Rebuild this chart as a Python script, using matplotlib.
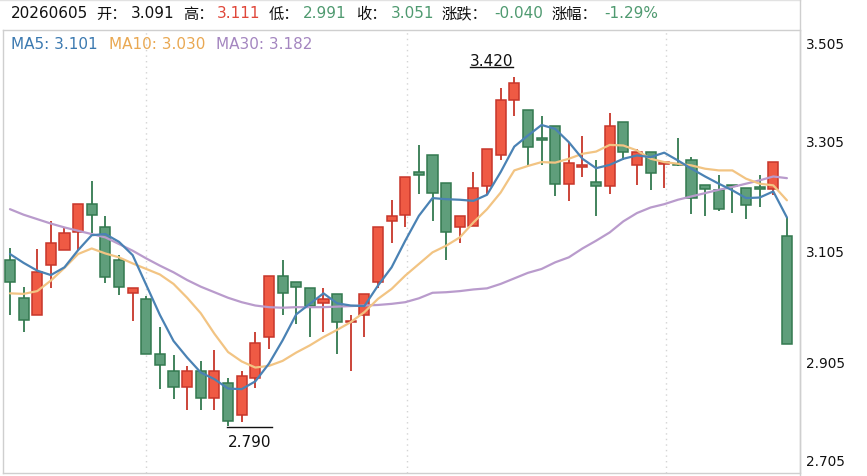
import matplotlib
matplotlib.use("Agg")
import matplotlib.pyplot as plt
from matplotlib.patches import Rectangle
from matplotlib.lines import Line2D
import numpy as np

# ---------------- data ----------------
opens = [3.091, 3.021, 2.990, 3.081, 3.109, 3.141, 3.191, 3.150, 3.091, 3.031,
         3.020, 2.921, 2.890, 2.860, 2.890, 2.841, 2.868, 2.810, 2.878, 2.952,
         3.061, 3.050, 3.039, 3.012, 3.028, 2.978, 2.990, 3.050, 3.160, 3.172,
         3.250, 3.280, 3.230, 3.150, 3.152, 3.223, 3.280, 3.380, 3.361, 3.310,
         3.332, 3.228, 3.258, 3.231, 3.223, 3.339, 3.261, 3.286, 3.264, 3.262,
         3.270, 3.225, 3.216, 3.226, 3.220, 3.220, 3.219, 3.134]
highs = [3.111, 3.042, 3.110, 3.161, 3.149, 3.191, 3.232, 3.169, 3.099, 3.040,
         3.026, 2.969, 2.919, 2.898, 2.908, 2.928, 2.878, 2.890, 2.961, 3.062,
         3.090, 3.050, 3.039, 3.039, 3.028, 2.990, 3.028, 3.150, 3.199, 3.240,
         3.298, 3.280, 3.230, 3.169, 3.250, 3.291, 3.400, 3.420, 3.361, 3.351,
         3.332, 3.303, 3.315, 3.270, 3.356, 3.339, 3.291, 3.286, 3.268, 3.310,
         3.276, 3.225, 3.244, 3.226, 3.220, 3.244, 3.267, 3.167]
lows = [2.991, 2.961, 2.990, 3.039, 3.108, 3.107, 3.139, 3.049, 3.027, 2.980,
        2.921, 2.857, 2.839, 2.820, 2.820, 2.820, 2.790, 2.797, 2.859, 2.930,
        2.990, 2.975, 2.951, 2.960, 2.921, 2.890, 2.951, 3.039, 3.121, 3.150,
        3.209, 3.161, 3.091, 3.121, 3.152, 3.209, 3.270, 3.351, 3.261, 3.262,
        3.205, 3.196, 3.240, 3.169, 3.210, 3.270, 3.226, 3.216, 3.220, 3.260,
        3.173, 3.169, 3.179, 3.175, 3.164, 3.185, 3.208, 2.939]
closes = [3.051, 2.982, 3.069, 3.121, 3.139, 3.191, 3.172, 3.060, 3.042, 3.040,
          2.921, 2.901, 2.860, 2.890, 2.841, 2.890, 2.800, 2.880, 2.940, 3.061,
          3.031, 3.042, 3.008, 3.020, 2.979, 2.980, 3.028, 3.150, 3.169, 3.240,
          3.243, 3.212, 3.141, 3.169, 3.220, 3.291, 3.380, 3.410, 3.294, 3.307,
          3.228, 3.265, 3.261, 3.223, 3.332, 3.286, 3.286, 3.247, 3.268, 3.261,
          3.203, 3.219, 3.182, 3.223, 3.190, 3.219, 3.267, 2.939]

ma5 = [3.101, 3.085, 3.071, 3.063, 3.077, 3.108, 3.135, 3.137, 3.123, 3.099,
       3.045, 2.991, 2.944, 2.914, 2.887, 2.875, 2.858, 2.857, 2.871, 2.903,
       2.945, 2.992, 3.011, 3.030, 3.012, 3.008, 3.007, 3.044, 3.077, 3.125,
       3.170, 3.202, 3.200, 3.199, 3.197, 3.208, 3.249, 3.295, 3.315, 3.334,
       3.327, 3.303, 3.273, 3.256, 3.262, 3.273, 3.279, 3.276, 3.284, 3.270,
       3.255, 3.241, 3.228, 3.216, 3.202, 3.203, 3.214, 3.167]
ma10 = [3.030, 3.029, 3.034, 3.053, 3.076, 3.101, 3.111, 3.102, 3.095, 3.084,
        3.074, 3.064, 3.047, 3.022, 2.994, 2.957, 2.924, 2.907, 2.896, 2.899,
        2.908, 2.923, 2.936, 2.951, 2.964, 2.978, 2.996, 3.020, 3.038, 3.062,
        3.083, 3.104, 3.116, 3.131, 3.158, 3.182, 3.212, 3.252, 3.260, 3.267,
        3.266, 3.273, 3.282, 3.286, 3.298, 3.297, 3.288, 3.273, 3.267, 3.264,
        3.261, 3.255, 3.252, 3.252, 3.237, 3.228, 3.225, 3.198]
ma30 = [3.182, 3.172, 3.164, 3.156, 3.149, 3.143, 3.137, 3.131, 3.119, 3.107,
        3.093, 3.080, 3.068, 3.054, 3.042, 3.032, 3.022, 3.014, 3.008, 3.005,
        3.004, 3.005, 3.005, 3.005, 3.006, 3.007, 3.008, 3.009, 3.011, 3.014,
        3.021, 3.031, 3.032, 3.034, 3.037, 3.039, 3.047, 3.057, 3.067, 3.074,
        3.086, 3.095, 3.111, 3.125, 3.140, 3.160, 3.175, 3.185, 3.191, 3.199,
        3.205, 3.211, 3.217, 3.222, 3.228, 3.234, 3.241, 3.238]

y_ticks = [2.705, 2.905, 3.105, 3.305, 3.505]
header_date = "20260605"
header_open, header_high, header_low, header_close = 3.091, 3.111, 2.991, 3.051
header_change, header_pct = "-0.040", "-1.29%"
ma_labels = [("MA5", 3.101), ("MA10", 3.030), ("MA30", 3.182)]
grid_x = [10, 29.1, 48.1]

# ---------------- style ----------------
RED_F, RED_E = "#ef5a44", "#c7362a"
GRN_F, GRN_E = "#5f9e7b", "#33794f"
C_MA5, C_MA10, C_MA30 = "#4a82b4", "#f2c483", "#b99bcc"
T_MA5, T_MA10, T_MA30 = "#3b79b0", "#e9a852", "#a486c0"
T_RED, T_GRN = "#e0473a", "#4f9a70"
K = "#111111"
BORDER = "#cfcfcf"
FAM = ["DejaVu Sans", "Noto Sans CJK SC"]

W, H = 867, 477
fig = plt.figure(figsize=(W / 100, H / 100), dpi=100)
fig.patch.set_facecolor("white")


def px_rect(x0, y0, x1, y1):
    return [x0 / W, 1 - y1 / H, (x1 - x0) / W, (y1 - y0) / H]


ax = fig.add_axes(px_rect(3, 31.3, 800, 474.3))
n = len(closes)
x = np.arange(n)
ax.set_xlim(-0.51, 57.96)
ax.set_ylim(y_ticks[0], y_ticks[-1])

for gx in grid_x:
    ax.axvline(gx, color="#d4d4d4", lw=1, ls=(0, (1, 3)), zorder=0)

bw = 0.74
for i in range(n):
    o, h, l, c = opens[i], highs[i], lows[i], closes[i]
    up = c >= o
    fc, ec = (RED_F, RED_E) if up else (GRN_F, GRN_E)
    ax.vlines(x[i], l, h, color=ec, lw=1.3, zorder=2)
    bot = min(o, c)
    hgt = max(abs(c - o), 0.0025)
    ax.add_patch(Rectangle((x[i] - bw / 2, bot), bw, hgt, facecolor=fc,
                           edgecolor=ec, lw=1.1, zorder=3))

ax.plot(x, ma30, color=C_MA30, lw=1.6, zorder=4, solid_capstyle="round")
ax.plot(x, ma10, color=C_MA10, lw=1.6, zorder=4, solid_capstyle="round")
ax.plot(x, ma5, color=C_MA5, lw=1.6, zorder=5, solid_capstyle="round")

# high / low markers
ih = int(np.argmax(highs))
il = int(np.argmin(lows))
hv, lv = highs[ih], lows[il]
ax.plot([ih - 3.26, ih - 0.1], [hv + 0.019, hv + 0.019], color=K, lw=1, zorder=6)
ax.annotate(f"{hv:.3f}", xy=(ih - 1.68, hv), xytext=(0, 8.6), textcoords="offset points",
            ha="center", va="baseline", fontsize=11, family=FAM, color=K, zorder=6)
ax.plot([il - 0.05, il + 3.2], [lv - 0.0015, lv - 0.0015], color=K, lw=1, zorder=6)
ax.annotate(f"{lv:.3f}", xy=(il + 1.58, lv), xytext=(0, -14.2), textcoords="offset points",
            ha="center", va="baseline", fontsize=11, family=FAM, color=K, zorder=6)

# spines & ticks
for s in ["left", "right", "bottom", "top"]:
    ax.spines[s].set_color(BORDER)
    ax.spines[s].set_linewidth(1)
ax.set_xticks([])
ax.set_yticks([])

ytr = ax.get_yaxis_transform()
for v in y_ticks:
    if v == y_ticks[-1]:
        off = -9.8
    elif v == y_ticks[0]:
        off = 8.8
    else:
        off = -0.5
    ax.annotate(f"{v:.3f}", xy=(1, v), xycoords=ytr, xytext=(4.5, off),
                textcoords="offset points", ha="left", va="center", fontsize=9.8,
                family="DejaVu Sans", color=K, annotation_clip=False)

# header box lines
fig.add_artist(Line2D([0, 800 / W], [1 - 1.0 / H, 1 - 1.0 / H], color="#e2e2e2", lw=1))
fig.add_artist(Line2D([800 / W, 800 / W], [0, 1], color=BORDER, lw=1))

# header segments (text, colour, left pixel position)
hdr = [(header_date, K, 11), ("开：", K, 96), (f"{header_open:.3f}", K, 131),
       ("高：", K, 183), (f"{header_high:.3f}", T_RED, 217),
       ("低：", K, 269), (f"{header_low:.3f}", T_GRN, 303),
       ("收：", K, 356), (f"{header_close:.3f}", T_GRN, 391),
       ("涨跌：", K, 442), (header_change, T_GRN, 494),
       ("涨幅：", K, 552), (header_pct, T_GRN, 604)]
for s, c, px in hdr:
    fig.text(px / W, 1 - 18.5 / H, s, color=c, fontsize=11, family=FAM,
             va="baseline", ha="left")

ma_cols = [T_MA5, T_MA10, T_MA30]
ma_x = [11, 109, 216]
for (name, val), col, mx in zip(ma_labels, ma_cols, ma_x):
    fig.text(mx / W, 1 - 49 / H, f"{name}: {val:.3f}", color=col, fontsize=11,
             family=FAM, va="baseline", ha="left")

fig.savefig("out.png", dpi=100, facecolor="white")
